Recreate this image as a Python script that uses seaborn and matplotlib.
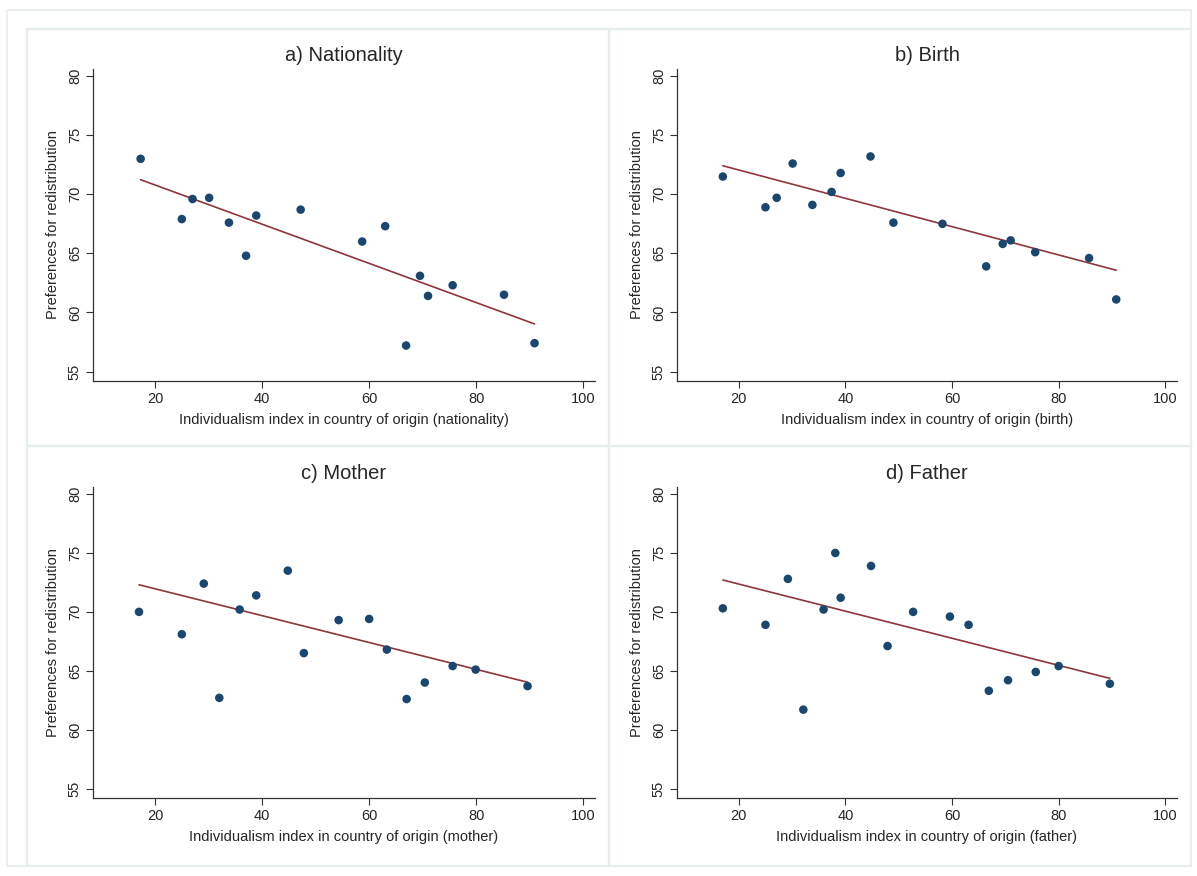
import matplotlib
matplotlib.use("Agg")
import matplotlib.pyplot as plt
from matplotlib.patches import Rectangle
import numpy as np
import pandas as pd
import seaborn as sns

# values (country means)
nat_x = [17.3, 25.0, 27.0, 30.1, 33.8, 37.0, 38.9, 47.2, 58.7, 63.0, 66.9, 69.5, 71.0, 75.6, 85.2, 90.9]
nat_y = [73.0, 67.9, 69.6, 69.7, 67.6, 64.8, 68.2, 68.7, 66.0, 67.3, 57.2, 63.1, 61.4, 62.3, 61.5, 57.4]

birth_x = [17.0, 25.0, 27.1, 30.1, 33.8, 37.4, 39.1, 44.7, 49.0, 58.2, 66.4, 69.5, 71.0, 75.6, 85.7, 90.8]
birth_y = [71.5, 68.9, 69.7, 72.6, 69.1, 70.2, 71.8, 73.2, 67.6, 67.5, 63.9, 65.8, 66.1, 65.1, 64.6, 61.1]

mother_x = [17.0, 25.0, 29.1, 32.0, 35.8, 38.9, 44.8, 47.8, 54.3, 60.0, 63.3, 67.0, 70.4, 75.6, 79.9, 89.6]
mother_y = [70.0, 68.1, 72.4, 62.7, 70.2, 71.4, 73.5, 66.5, 69.3, 69.4, 66.8, 62.6, 64.0, 65.4, 65.1, 63.7]

father_x = [17.0, 25.0, 29.2, 32.1, 35.9, 38.1, 39.1, 44.8, 47.9, 52.7, 59.6, 63.1, 66.9, 70.5, 75.7, 80.0, 89.6]
father_y = [70.3, 68.9, 72.8, 61.7, 70.2, 75.0, 71.2, 73.9, 67.1, 70.0, 69.6, 68.9, 63.3, 64.2, 64.9, 65.4, 63.9]

fit_intercept = [74.10, 74.45, 74.24, 74.66]
fit_slope = [-0.1658, -0.1198, -0.1140, -0.1150]

titles = ["a) Nationality", "b) Birth", "c) Mother", "d) Father"]
xlabels = ["Individualism index in country of origin (nationality)",
           "Individualism index in country of origin (birth)",
           "Individualism index in country of origin (mother)",
           "Individualism index in country of origin (father)"]
ylabel = "Preferences for redistribution"
xticks = [20, 40, 60, 80, 100]
yticks = [55, 60, 65, 70, 75, 80]

NAVY = "#1a476f"
MAROON = "#90353b"
BORDER = "#e6eef0"

sns.set_style("white")
plt.rcParams["font.family"] = ["Liberation Sans", "DejaVu Sans"]

fig = plt.figure(figsize=(11.97, 8.76), dpi=100)

# Stata-style panel frames
W, H = 1197, 876
fig.patches.append(Rectangle((7 / W, 1 - 866 / H), 1184 / W, 856 / H, transform=fig.transFigure,
                             fill=False, edgecolor=BORDER, lw=1.2))
for (x0, y0, x1, y1) in [(27, 29, 609, 446), (609, 29, 1191, 446), (27, 446, 609, 866), (609, 446, 1191, 866)]:
    fig.patches.append(Rectangle((x0 / W, 1 - y1 / H), (x1 - x0) / W, (y1 - y0) / H,
                                 transform=fig.transFigure, fill=False, edgecolor=BORDER, lw=1.6))

positions = [(93, 69, 595, 381), (677, 69, 1177, 381), (93, 487, 595, 798), (677, 487, 1177, 798)]
datasets = [(nat_x, nat_y), (birth_x, birth_y), (mother_x, mother_y), (father_x, father_y)]

for i, ((px0, py0, px1, py1), (xs, ys)) in enumerate(zip(positions, datasets)):
    ax = fig.add_axes([px0 / W, 1 - py1 / H, (px1 - px0) / W, (py1 - py0) / H])
    df = pd.DataFrame({"x": xs, "y": ys})
    sns.scatterplot(data=df, x="x", y="y", s=38, color=NAVY, edgecolor="none", ax=ax, zorder=3)
    fx = np.array([min(xs), max(xs)])
    fit = pd.DataFrame({"x": fx, "y": fit_intercept[i] + fit_slope[i] * fx})
    sns.lineplot(data=fit, x="x", y="y", color=MAROON, lw=1.2, ax=ax, zorder=2)
    ax.set_xlim(8.4, 102.2)
    ax.set_ylim(54.2, 80.6)
    ax.set_xticks(xticks)
    ax.set_yticks(yticks)
    ax.set_yticklabels([str(t) for t in yticks], rotation=90, va="center")
    ax.tick_params(axis="both", direction="out", length=5, width=0.8, color="#333333",
                   labelsize=10.5, pad=3, left=True, bottom=True)
    for s in ["top", "right"]:
        ax.spines[s].set_visible(False)
    for s in ["left", "bottom"]:
        ax.spines[s].set_color("#333333")
        ax.spines[s].set_linewidth(0.9)
    ax.set_title(titles[i], fontsize=14.5, pad=6)
    ax.set_xlabel(xlabels[i], fontsize=10.5, labelpad=5)
    ax.set_ylabel(ylabel, fontsize=10.5, labelpad=6)

fig.savefig("out.png", dpi=100)
